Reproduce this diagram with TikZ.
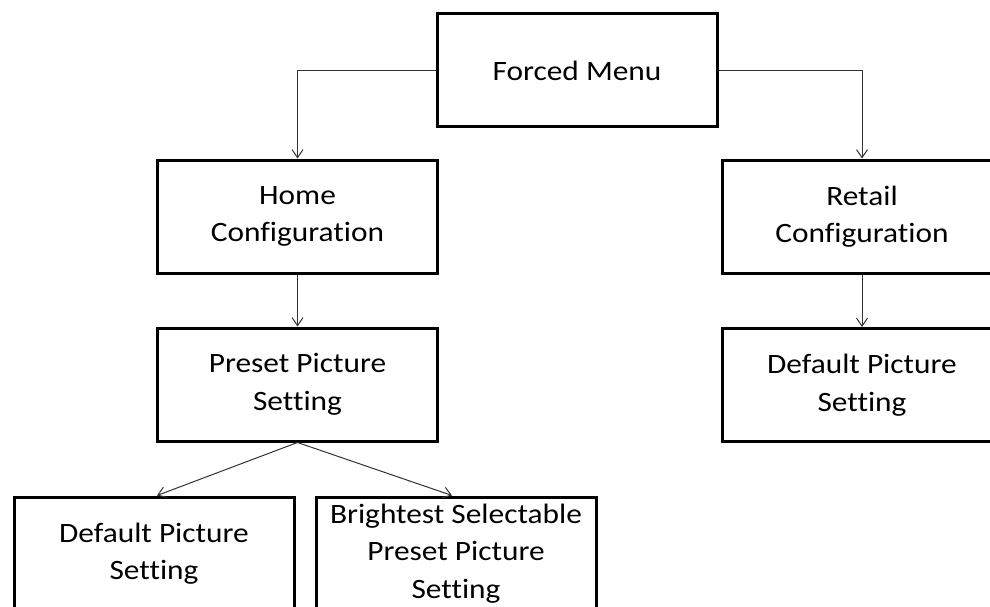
\documentclass[tikz,border=0pt]{standalone}
\usepackage{fontspec}
\setmainfont{Carlito}[FakeStretch=1.12, Ligatures=NoCommon]
\usetikzlibrary{arrows.meta}
\begin{document}
\begin{tikzpicture}[x=1pt,y=-1pt,
  box/.style={draw=black, line width=3pt, fill=white, minimum width=280pt, minimum height=113pt,
    align=center, inner sep=0pt, font=\fontsize{28}{37.5}\selectfont, text=black},
  conn/.style={draw=black!80, line width=1pt, -{Straight Barb[length=8pt,width=11pt]}}]
\useasboundingbox (0,0) rectangle (990,607);
\clip (0,0) rectangle (990,607);
\fill[white] (0,0) rectangle (990,607);
\node[box] (forced) at (577,70.5) {Forced Menu};
\node[box] (home) at (297.5,216.5) {Home\\Configuration};
\node[box] (retail) at (862,216.5) {Retail\\Configuration};
\node[box] (preset) at (297.5,384.5) {Preset Picture\\Setting};
\node[box] (rdef) at (862,385) {Default Picture\\Setting};
\node[box] (ldef) at (154,553.5) {Default Picture\\Setting};
\node[box] (bright) at (456,553.5) {Brightest Selectable\\Preset Picture\\Setting};
\draw[conn] (forced.west) -| (home.north);
\draw[conn] (forced.east) -| (retail.north);
\draw[conn] (home.south) -- (preset.north);
\draw[conn] (retail.south) -- (rdef.north);
\draw[conn] (preset.south) -- ([xshift=3pt]ldef.north);
\draw[conn] (preset.south) -- ([xshift=-4pt]bright.north);
\end{tikzpicture}
\end{document}
